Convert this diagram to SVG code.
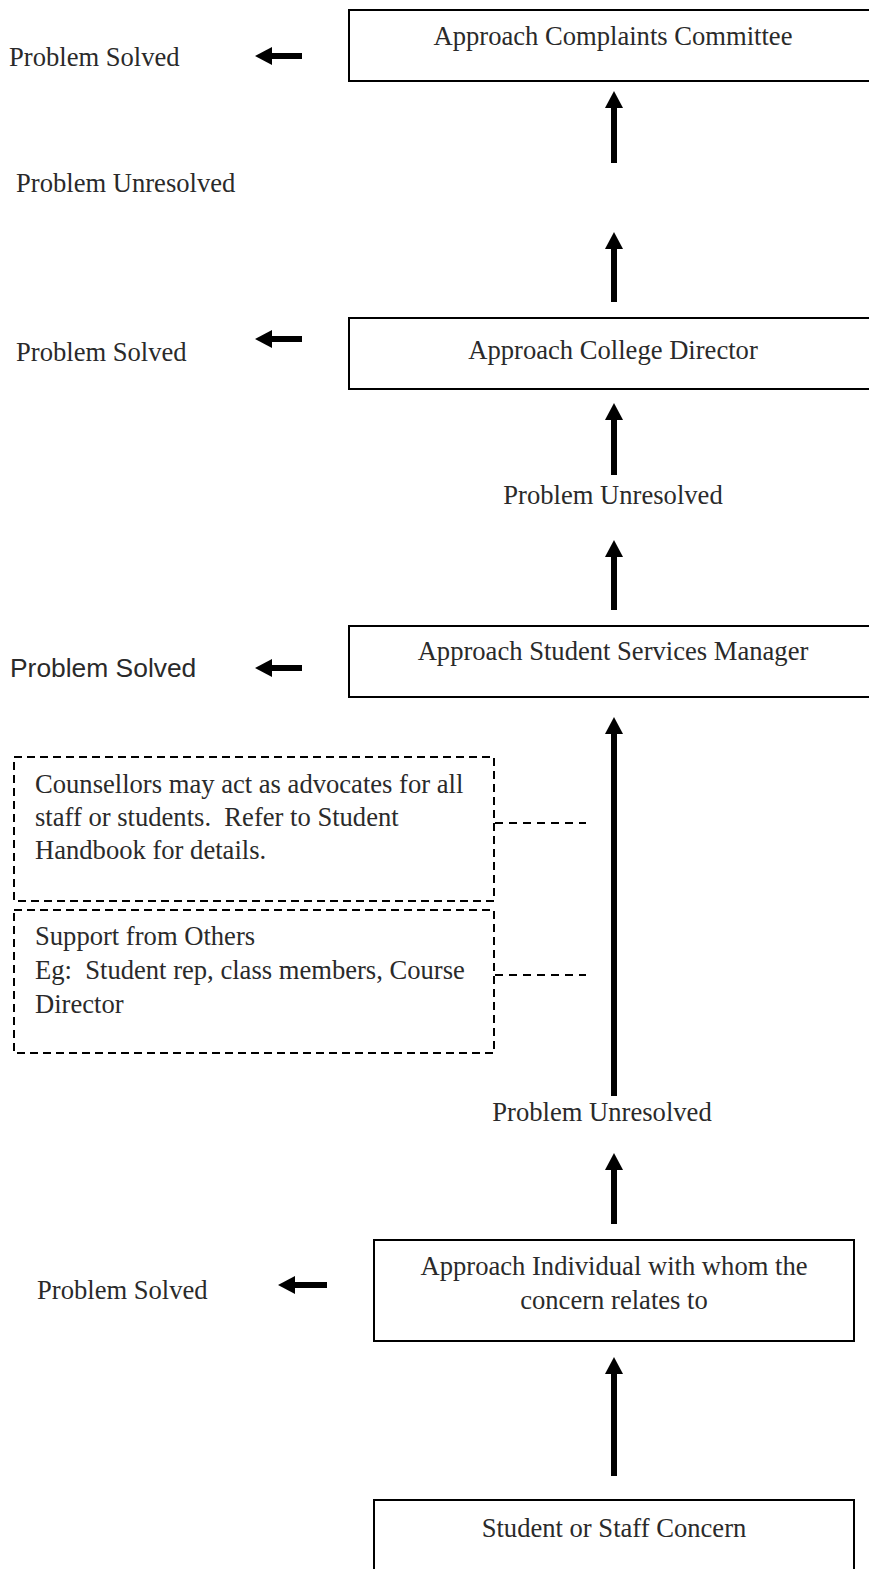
<svg xmlns="http://www.w3.org/2000/svg" width="869" height="1569" viewBox="0 0 869 1569">
<style>
.t{font-family:"Liberation Serif","Times New Roman",serif;font-size:26.6px;fill:#2a2a2a;white-space:pre}
.s{font-family:"Liberation Sans",Arial,sans-serif;font-size:26.4px;fill:#2a2a2a}
.c{text-anchor:middle}
.box{fill:#fff;stroke:#000;stroke-width:2}
.dbox{fill:none;stroke:#000;stroke-width:2;stroke-dasharray:8 5}
.arr{stroke:#000;stroke-width:6;fill:none;marker-end:url(#ah)}
.dash{stroke:#000;stroke-width:2;stroke-dasharray:8 6;fill:none}
</style>
<defs>
<marker id="ah" viewBox="0 0 17 18" refX="0" refY="9" markerWidth="17" markerHeight="18" markerUnits="userSpaceOnUse" orient="auto">
<path d="M0,0 L17,9 L0,18 Z" fill="#000"/>
</marker>
</defs>
<rect width="869" height="1569" fill="#fff"/>
<g id="connectors">
<line class="arr" x1="614" y1="163" x2="614" y2="108"/>
<line class="arr" x1="614" y1="302" x2="614" y2="249"/>
<line class="arr" x1="614" y1="475" x2="614" y2="420"/>
<line class="arr" x1="614" y1="610" x2="614" y2="557"/>
<line class="arr" x1="614" y1="1096" x2="614" y2="734"/>
<line class="arr" x1="614" y1="1224" x2="614" y2="1170"/>
<line class="arr" x1="614" y1="1476" x2="614" y2="1374"/>
<line class="arr" x1="302" y1="56" x2="272" y2="56"/>
<line class="arr" x1="302" y1="339" x2="272" y2="339"/>
<line class="arr" x1="302" y1="668" x2="272" y2="668"/>
<line class="arr" x1="327" y1="1285" x2="295" y2="1285"/>
<line class="dash" x1="495" y1="823" x2="586" y2="823"/>
<line class="dash" x1="495" y1="975" x2="586" y2="975"/>
</g>
<g id="committee">
<rect class="box" x="349" y="10" width="540" height="71"/>
<text class="t c" x="613" y="45">Approach Complaints Committee</text>
</g>
<g id="solved1"><text class="t" x="9" y="66">Problem Solved</text></g>
<g id="unresolved1"><text class="t" x="16" y="192">Problem Unresolved</text></g>
<g id="director">
<rect class="box" x="349" y="318" width="540" height="71"/>
<text class="t c" x="613" y="359">Approach College Director</text>
</g>
<g id="solved2"><text class="t" x="16" y="361">Problem Solved</text></g>
<g id="unresolved2"><text class="t c" x="613" y="504">Problem Unresolved</text></g>
<g id="ssm">
<rect class="box" x="349" y="626" width="540" height="71"/>
<text class="t c" x="613" y="660">Approach Student Services Manager</text>
</g>
<g id="solved3"><text class="s" x="10" y="677">Problem Solved</text></g>
<g id="counsellors">
<rect class="dbox" x="14" y="757" width="480" height="144"/>
<text class="t" x="35" y="793">Counsellors may act as advocates for all</text>
<text class="t" x="35" y="826" xml:space="preserve">staff or students.  Refer to Student</text>
<text class="t" x="35" y="859">Handbook for details.</text>
</g>
<g id="support">
<rect class="dbox" x="14" y="910" width="480" height="143"/>
<text class="t" x="35" y="945">Support from Others</text>
<text class="t" x="35" y="979" xml:space="preserve">Eg:  Student rep, class members, Course</text>
<text class="t" x="35" y="1013">Director</text>
</g>
<g id="unresolved3"><text class="t c" x="602" y="1121">Problem Unresolved</text></g>
<g id="individual">
<rect class="box" x="374" y="1240" width="480" height="101"/>
<text class="t c" x="614" y="1275">Approach Individual with whom the</text>
<text class="t c" x="614" y="1309">concern relates to</text>
</g>
<g id="solved4"><text class="t" x="37" y="1299">Problem Solved</text></g>
<g id="concern">
<rect class="box" x="374" y="1500" width="480" height="100"/>
<text class="t c" x="614" y="1537">Student or Staff Concern</text>
</g>
</svg>
